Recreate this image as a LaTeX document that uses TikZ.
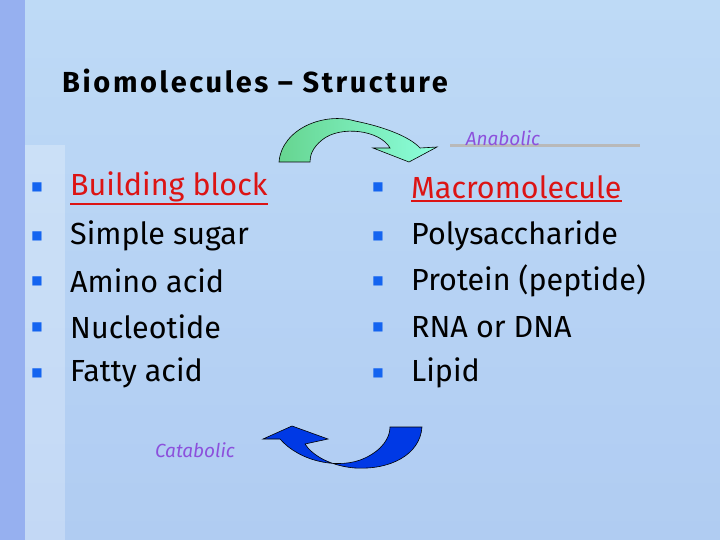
\documentclass[tikz,border=0pt]{standalone}
\usepackage{fontspec}
\setmainfont{Fira Sans}
\newfontfamily\bulletfont{DejaVu Sans}
\newfontfamily\titlefont[LetterSpace=9]{Fira Sans}
\usetikzlibrary{positioning}
\definecolor{slide}{RGB}{190,218,246}
\definecolor{slidelow}{RGB}{176,204,242}
\definecolor{strip}{RGB}{150,176,240}
\definecolor{bulletblue}{RGB}{20,100,240}
\definecolor{headred}{RGB}{220,20,20}
\definecolor{labelpurple}{RGB}{140,80,220}
\begin{document}
\begin{tikzpicture}[x=1pt,y=-1pt,
				item/.style={anchor=west,inner sep=0pt,font=\fontsize{30.5}{33}\selectfont},
				head/.style={item,text=headred},
				bulletmark/.style={anchor=center,inner sep=0pt,text=bulletblue,font=\bulletfont\fontsize{12}{13}\selectfont},
				tag/.style={inner sep=0pt,text=labelpurple,font=\itshape\fontsize{19}{21}\selectfont}]
				\useasboundingbox (0,0) rectangle (720,540);
				\shade[top color=slide,bottom color=slidelow] (0,0) rectangle (720,540);
				\fill[strip] (0,0) rectangle (25,540);
				\fill[white,opacity=0.25] (25,145) rectangle (65,540);
				\draw[line width=3pt,gray!55] (450,146) -- (640,146);
				% title
				\node (TITLE) [anchor=west,inner sep=0pt,font=\titlefont\bfseries\fontsize{29}{32}\selectfont] at (62,81) {Biomolecules – Structure};
				% left column
				\node (BB)  [head] at (70,187) {Building block};
				\node (SS)  [item] at (70,236) {Simple sugar};
				\node (AA)  [item] at (70,281) {Amino acid};
				\node (NU)  [item] at (70,327) {Nucleotide};
				\node (FA)  [item] at (70,373) {Fatty acid};
				\foreach \n in {BB,SS,AA,NU,FA}
					\node [bulletmark] at ([xshift=-33pt]\n.west) {■};
				% right column
				\node (MM)  [head] at (411,187) {Macromolecule};
				\node (PS)  [item] at (411,236) {Polysaccharide};
				\node (PR)  [item] at (411,281) {Protein (peptide)};
				\node (RD)  [item] at (411,327) {RNA or DNA};
				\node (LI)  [item] at (411,373) {Lipid};
				\foreach \n in {MM,PS,PR,RD,LI}
					\node [bulletmark] at ([xshift=-33pt]\n.west) {■};
				\draw[headred,line width=2pt] ([yshift=-2pt]BB.south west) -- ([yshift=-2pt]BB.south east);
				\draw[headred,line width=2pt] ([yshift=-2pt]MM.south west) -- ([yshift=-2pt]MM.south east);
				% labels
				\node (ANA) [tag] at (503,138) {Anabolic};
				\node (CAT) [tag] at (195,450) {Catabolic};
				% arrows
				\shade[left color=green!45!teal!60,right color=green!30!cyan!45,draw=black,line width=0.6pt]
					(279,162) .. controls (282,128) and (325,112) .. (355,121)
					.. controls (385,127) and (410,137) .. (420,148) -- (437,147) -- (409,162) -- (373,148) -- (390,148)
					.. controls (380,130) and (340,125) .. (322,140)
					.. controls (312,148) and (310,156) .. (310,162) -- cycle;
				\fill[blue!75!cyan!90!black,draw=black,line width=0.6pt]
					(422,427) .. controls (420,455) and (390,470) .. (355,468)
					.. controls (330,466) and (312,455) .. (305,444) -- (328,439) -- (292,426) -- (263,439) -- (280,439)
					.. controls (300,462) and (340,470) .. (365,458)
					.. controls (382,450) and (390,438) .. (390,427) -- cycle;
			\end{tikzpicture}
\end{document}
